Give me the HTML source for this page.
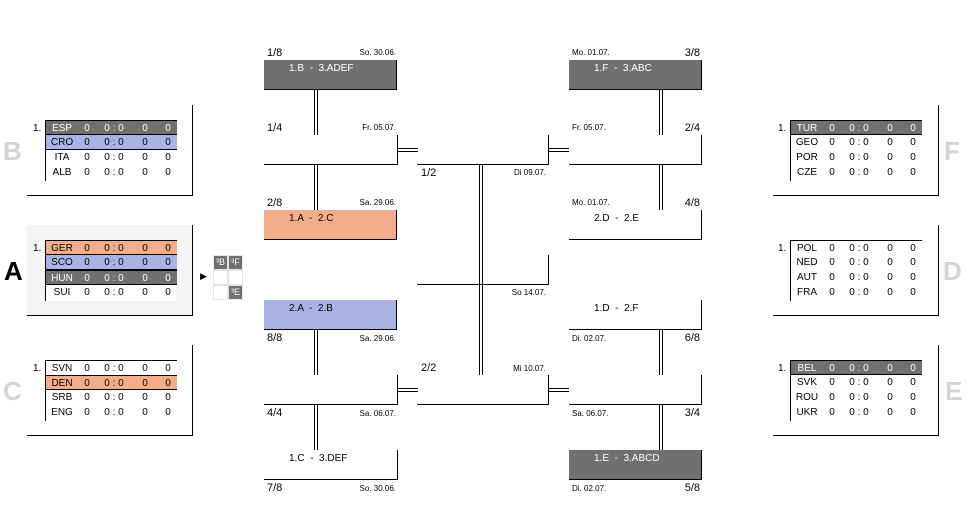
<!DOCTYPE html>
<html><head><meta charset="utf-8"><style>
body{margin:0;width:968px;height:530px;background:#fff;position:relative;overflow:hidden;font-family:"Liberation Sans",sans-serif;color:#000}
div{position:absolute;box-sizing:border-box}
.gb{width:166px;height:91px;border-right:1px solid #000;border-bottom:1px solid #000}
.gr{width:166px;height:91px;border-left:1px solid #000;border-bottom:1px solid #000}
.tb{width:131px;height:61px;border-left:1px solid #000}
.r{left:0;width:131px;height:15px;font-size:10px;line-height:15px}
.r span{position:absolute;text-align:center}
.n{left:2px;width:28px}.a{left:36px;width:10px}.b{left:52px;width:32px}.c{left:94px;width:10px}.d{left:117px;width:10px}
.dk{background:#707070;color:#fff;border-top:1px solid #000;border-bottom:1px solid #000}
.bl{background:#a9b4e4;border-bottom:1px solid #000}
.or{background:#f2ae8a;border-bottom:1px solid #000}
.top{border-top:1px solid #000}
.one{font-size:10px}
.L{font-size:26px;font-weight:bold;color:#d4d4d4}
.bx{width:133px;height:30px;border-right:1px solid #000;border-bottom:1px solid #000;font-size:10px;padding:3px 0 0 25px;white-space:pre}
.lb{font-size:11px}
.dt{font-size:8px}
.v{width:4px;border-left:1px solid #000;border-right:1px solid #000}
.h{height:4px;border-top:1px solid #000;border-bottom:1px solid #000}
.c3{width:15px;height:15px;border:1px solid #e4e4e4;font-size:9px;color:#fff;text-align:center;line-height:13px}
</style></head><body>

<!-- Group B -->
<div class="gb" style="left:27px;top:105px"></div>
<div class="L" style="left:3px;top:136px">B</div>
<div class="one" style="left:33px;top:123px">1.</div>
<div class="tb" style="left:45px;top:120px">
<div class="r dk" style="top:0"><span class="n">ESP</span><span class="a">0</span><span class="b">0 : 0</span><span class="c">0</span><span class="d">0</span></div>
<div class="r bl" style="top:15px"><span class="n">CRO</span><span class="a">0</span><span class="b">0 : 0</span><span class="c">0</span><span class="d">0</span></div>
<div class="r" style="top:30px"><span class="n">ITA</span><span class="a">0</span><span class="b">0 : 0</span><span class="c">0</span><span class="d">0</span></div>
<div class="r" style="top:45px"><span class="n">ALB</span><span class="a">0</span><span class="b">0 : 0</span><span class="c">0</span><span class="d">0</span></div>
</div>

<!-- Group A -->
<div class="gb" style="left:27px;top:225px;background:#f4f4f4"></div>
<div class="L" style="left:4px;top:256px;color:#000">A</div>
<div class="one" style="left:33px;top:243px">1.</div>
<div class="tb" style="left:45px;top:240px;background:#fff">
<div class="r or top" style="top:0"><span class="n">GER</span><span class="a">0</span><span class="b">0 : 0</span><span class="c">0</span><span class="d">0</span></div>
<div class="r bl" style="top:15px"><span class="n">SCO</span><span class="a">0</span><span class="b">0 : 0</span><span class="c">0</span><span class="d">0</span></div>
<div class="r dk" style="top:30px"><span class="n">HUN</span><span class="a">0</span><span class="b">0 : 0</span><span class="c">0</span><span class="d">0</span></div>
<div class="r" style="top:45px"><span class="n">SUI</span><span class="a">0</span><span class="b">0 : 0</span><span class="c">0</span><span class="d">0</span></div>
</div>
<div style="left:200px;top:271px;font-size:9px">&#9654;</div>
<div class="c3" style="left:213px;top:255px;background:#707070">³B</div>
<div class="c3" style="left:228px;top:255px;background:#707070">³F</div>
<div class="c3" style="left:213px;top:270px"></div>
<div class="c3" style="left:228px;top:270px"></div>
<div class="c3" style="left:213px;top:285px"></div>
<div class="c3" style="left:228px;top:285px;background:#707070">³E</div>

<!-- Group C -->
<div class="gb" style="left:27px;top:345px"></div>
<div class="L" style="left:3px;top:376px">C</div>
<div class="one" style="left:33px;top:363px">1.</div>
<div class="tb" style="left:45px;top:360px">
<div class="r top" style="top:0"><span class="n">SVN</span><span class="a">0</span><span class="b">0 : 0</span><span class="c">0</span><span class="d">0</span></div>
<div class="r or top" style="top:15px"><span class="n">DEN</span><span class="a">0</span><span class="b">0 : 0</span><span class="c">0</span><span class="d">0</span></div>
<div class="r" style="top:30px"><span class="n">SRB</span><span class="a">0</span><span class="b">0 : 0</span><span class="c">0</span><span class="d">0</span></div>
<div class="r" style="top:45px"><span class="n">ENG</span><span class="a">0</span><span class="b">0 : 0</span><span class="c">0</span><span class="d">0</span></div>
</div>

<!-- Group F -->
<div class="gr" style="left:773px;top:105px;width:166px;border-left:none;border-right:1px solid #000"></div>
<div class="L" style="left:944px;top:136px">F</div>
<div class="one" style="left:778px;top:123px">1.</div>
<div class="tb" style="left:790px;top:120px">
<div class="r dk" style="top:0"><span class="n">TUR</span><span class="a">0</span><span class="b">0 : 0</span><span class="c">0</span><span class="d">0</span></div>
<div class="r" style="top:15px"><span class="n">GEO</span><span class="a">0</span><span class="b">0 : 0</span><span class="c">0</span><span class="d">0</span></div>
<div class="r" style="top:30px"><span class="n">POR</span><span class="a">0</span><span class="b">0 : 0</span><span class="c">0</span><span class="d">0</span></div>
<div class="r" style="top:45px"><span class="n">CZE</span><span class="a">0</span><span class="b">0 : 0</span><span class="c">0</span><span class="d">0</span></div>
</div>

<!-- Group D -->
<div class="gr" style="left:773px;top:225px;border-left:none;border-right:1px solid #000"></div>
<div class="L" style="left:943px;top:256px">D</div>
<div class="one" style="left:778px;top:243px">1.</div>
<div class="tb" style="left:790px;top:240px">
<div class="r top" style="top:0"><span class="n">POL</span><span class="a">0</span><span class="b">0 : 0</span><span class="c">0</span><span class="d">0</span></div>
<div class="r" style="top:15px"><span class="n">NED</span><span class="a">0</span><span class="b">0 : 0</span><span class="c">0</span><span class="d">0</span></div>
<div class="r" style="top:30px"><span class="n">AUT</span><span class="a">0</span><span class="b">0 : 0</span><span class="c">0</span><span class="d">0</span></div>
<div class="r" style="top:45px"><span class="n">FRA</span><span class="a">0</span><span class="b">0 : 0</span><span class="c">0</span><span class="d">0</span></div>
</div>

<!-- Group E -->
<div class="gr" style="left:773px;top:345px;border-left:none;border-right:1px solid #000"></div>
<div class="L" style="left:945px;top:376px">E</div>
<div class="one" style="left:778px;top:363px">1.</div>
<div class="tb" style="left:790px;top:360px">
<div class="r dk" style="top:0"><span class="n">BEL</span><span class="a">0</span><span class="b">0 : 0</span><span class="c">0</span><span class="d">0</span></div>
<div class="r" style="top:15px"><span class="n">SVK</span><span class="a">0</span><span class="b">0 : 0</span><span class="c">0</span><span class="d">0</span></div>
<div class="r" style="top:30px"><span class="n">ROU</span><span class="a">0</span><span class="b">0 : 0</span><span class="c">0</span><span class="d">0</span></div>
<div class="r" style="top:45px"><span class="n">UKR</span><span class="a">0</span><span class="b">0 : 0</span><span class="c">0</span><span class="d">0</span></div>
</div>

<!-- Left bracket -->
<div class="lb" style="left:267px;top:47px">1/8</div><div class="dt" style="left:330px;top:48px;width:66px;text-align:right">So. 30.06.</div>
<div class="bx" style="left:264px;top:60px;background:#707070;color:#fff">1.B  -  3.ADEF</div>
<div class="v" style="left:314px;top:90px;height:45px"></div>
<div class="lb" style="left:267px;top:122px">1/4</div><div class="dt" style="left:330px;top:123px;width:66px;text-align:right">Fr. 05.07.</div>
<div class="bx" style="left:264px;top:135px;width:134px"></div>
<div class="h" style="left:397px;top:148px;width:21px"></div>
<div class="v" style="left:314px;top:165px;height:45px"></div>
<div class="lb" style="left:267px;top:197px">2/8</div><div class="dt" style="left:330px;top:198px;width:66px;text-align:right">Sa. 29.06.</div>
<div class="bx" style="left:264px;top:210px;background:#f2ae8a">1.A  -  2.C</div>

<div class="bx" style="left:264px;top:300px;background:#a9b4e4">2.A  -  2.B</div>
<div class="lb" style="left:267px;top:332px">8/8</div><div class="dt" style="left:330px;top:334px;width:66px;text-align:right">Sa. 29.06.</div>
<div class="v" style="left:314px;top:330px;height:45px"></div>
<div class="bx" style="left:264px;top:375px;width:134px"></div>
<div class="h" style="left:397px;top:388px;width:21px"></div>
<div class="lb" style="left:267px;top:407px">4/4</div><div class="dt" style="left:330px;top:409px;width:66px;text-align:right">Sa. 06.07.</div>
<div class="v" style="left:314px;top:405px;height:45px"></div>
<div class="bx" style="left:264px;top:450px;width:134px">1.C  -  3.DEF</div>
<div class="lb" style="left:267px;top:482px">7/8</div><div class="dt" style="left:330px;top:484px;width:66px;text-align:right">So. 30.06.</div>

<!-- Center -->
<div class="bx" style="left:417px;top:135px;width:132px"></div>
<div class="lb" style="left:421px;top:167px">1/2</div><div class="dt" style="left:480px;top:168px;width:66px;text-align:right">Di 09.07.</div>
<div class="v" style="left:479px;top:165px;height:210px"></div>
<div class="bx" style="left:417px;top:255px;width:132px;background:transparent"></div>
<div class="dt" style="left:480px;top:288px;width:66px;text-align:right">So 14.07.</div>
<div class="lb" style="left:421px;top:362px">2/2</div><div class="dt" style="left:480px;top:364px;width:66px;text-align:right">Mi 10.07.</div>
<div class="bx" style="left:417px;top:375px;width:132px"></div>
<div class="h" style="left:548px;top:148px;width:21px"></div>
<div class="h" style="left:548px;top:388px;width:21px"></div>

<!-- Right bracket -->
<div class="dt" style="left:572px;top:48px">Mo. 01.07.</div><div class="lb" style="left:660px;top:47px;width:40px;text-align:right">3/8</div>
<div class="bx" style="left:569px;top:60px;background:#707070;color:#fff">1.F  -  3.ABC</div>
<div class="v" style="left:659px;top:90px;height:45px"></div>
<div class="dt" style="left:572px;top:123px">Fr. 05.07.</div><div class="lb" style="left:660px;top:122px;width:40px;text-align:right">2/4</div>
<div class="bx" style="left:569px;top:135px"></div>
<div class="v" style="left:659px;top:165px;height:45px"></div>
<div class="dt" style="left:572px;top:198px">Mo. 01.07.</div><div class="lb" style="left:660px;top:197px;width:40px;text-align:right">4/8</div>
<div class="bx" style="left:569px;top:210px">2.D  -  2.E</div>

<div class="bx" style="left:569px;top:300px">1.D  -  2.F</div>
<div class="dt" style="left:572px;top:334px">Di. 02.07.</div><div class="lb" style="left:660px;top:332px;width:40px;text-align:right">6/8</div>
<div class="v" style="left:659px;top:330px;height:45px"></div>
<div class="bx" style="left:569px;top:375px"></div>
<div class="dt" style="left:572px;top:409px">Sa. 06.07.</div><div class="lb" style="left:660px;top:407px;width:40px;text-align:right">3/4</div>
<div class="v" style="left:659px;top:405px;height:45px"></div>
<div class="bx" style="left:569px;top:450px;background:#707070;color:#fff">1.E  -  3.ABCD</div>
<div class="dt" style="left:572px;top:484px">Di. 02.07.</div><div class="lb" style="left:660px;top:482px;width:40px;text-align:right">5/8</div>

</body></html>
